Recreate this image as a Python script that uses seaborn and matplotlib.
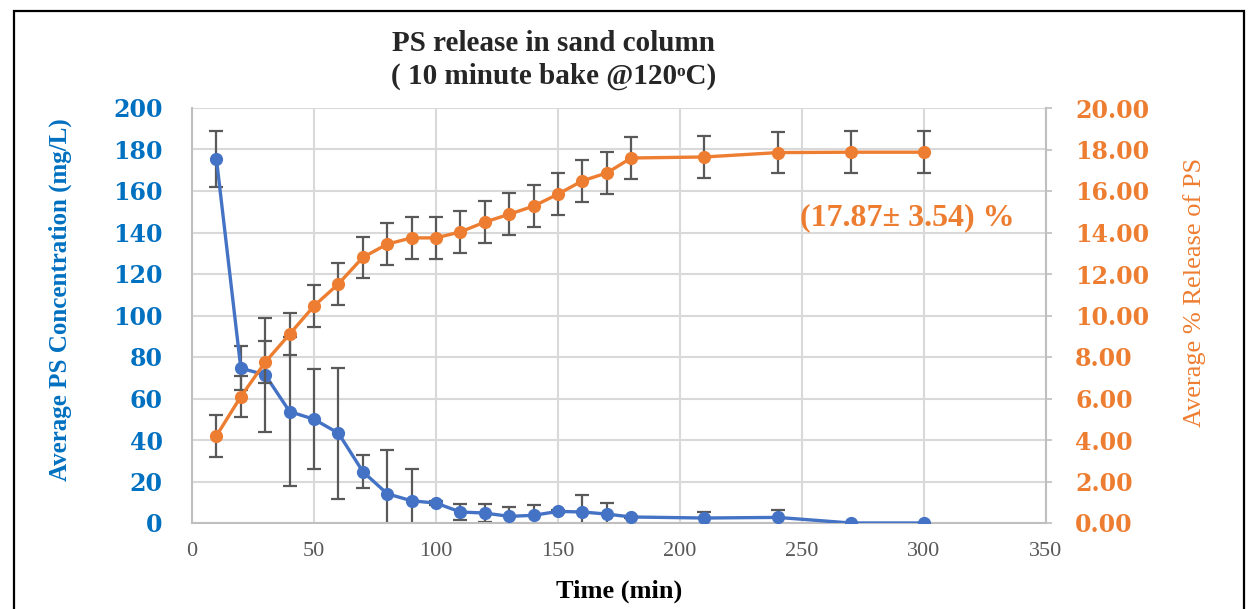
import matplotlib
matplotlib.use('Agg')
import matplotlib.pyplot as plt
import seaborn as sns
import pandas as pd
from matplotlib.patches import Rectangle

# ── Data ────────────────────────────────────────────────────────────────────
time_min = [10, 20, 30, 40, 50, 60, 70, 80, 90, 100, 110,
            120, 130, 140, 150, 160, 170, 180, 210, 240, 270, 300]
ps_conc = [175.6, 74.6, 71.4, 53.7, 50.0, 43.3, 24.8, 14.1, 10.7, 9.6, 5.3,
           4.8, 3.2, 3.7, 5.6, 5.3, 4.3, 2.9, 2.4, 2.7, 0.0, 0.0]
ps_conc_err = [13.5, 10.5, 27.6, 36.0, 24.0, 31.5, 7.8, 21.0, 15.3, 0.8, 4.0,
               4.5, 4.5, 5.0, 0.8, 8.3, 5.3, 0.5, 2.9, 3.8, 0.0, 0.0]
ps_release = [4.20, 6.09, 7.75, 9.10, 10.46, 11.52, 12.80, 13.44, 13.74, 13.74, 14.03,
              14.50, 14.88, 15.27, 15.85, 16.49, 16.87, 17.59, 17.64, 17.85, 17.87, 17.87]
ps_release_err = [1.0] * len(time_min)

x_ticks = [0, 50, 100, 150, 200, 250, 300, 350]
left_ticks = list(range(0, 201, 20))
right_ticks = list(range(0, 21, 2))

df = pd.DataFrame({'time': time_min, 'conc': ps_conc, 'release': ps_release})

BLUE = '#4472C4'
ORANGE = '#ED7D31'
BLUE_TXT = '#0070C0'
ERR = '#595959'
GRID = '#D9D9D9'
WIDE_SERIF = ['DejaVu Serif']

sns.set_theme(style='white')
plt.rcParams['font.family'] = ['Liberation Serif', 'DejaVu Serif']

fig = plt.figure(figsize=(12.48, 6.09), dpi=100)
ax = fig.add_axes([192 / 1248, 1 - 523 / 609, (1046 - 192) / 1248, (523 - 108) / 609])
ax2 = ax.twinx()

# ── Concentration (left axis) ──────────────────────────────────────────────
ax.errorbar(df['time'], df['conc'], yerr=ps_conc_err, fmt='none', ecolor=ERR,
            elinewidth=1.6, capsize=5, capthick=1.6, zorder=2)
sns.lineplot(data=df, x='time', y='conc', ax=ax, color=BLUE, linewidth=2.4,
             marker='o', markersize=9.5, markeredgewidth=0, zorder=3)

# ── % release (right axis) ─────────────────────────────────────────────────
ax2.errorbar(df['time'], df['release'], yerr=ps_release_err, fmt='none', ecolor=ERR,
             elinewidth=1.6, capsize=5, capthick=1.6, zorder=2)
sns.lineplot(data=df, x='time', y='release', ax=ax2, color=ORANGE, linewidth=2.4,
             marker='o', markersize=9.5, markeredgewidth=0, zorder=3)

# ── Axes styling ───────────────────────────────────────────────────────────
ax.set_xlim(0, 350)
ax.set_ylim(0, 200)
ax2.set_ylim(0, 20)
ax.set_xticks(x_ticks)
ax.set_yticks(left_ticks)
ax2.set_yticks(right_ticks)
ax2.set_yticklabels([f'{v:.2f}' for v in right_ticks])

ax.grid(True, color=GRID, linewidth=1.5)
ax.set_axisbelow(True)
ax2.grid(False)
for sp in ax.spines.values():
    sp.set_color('#BFBFBF')
    sp.set_linewidth(1.5)
for sp in ax2.spines.values():
    sp.set_visible(False)
ax.spines['top'].set_visible(False)

ax.tick_params(axis='x', length=0, pad=14, labelsize=16, labelcolor=ERR)
ax.tick_params(axis='y', length=0, pad=21, labelcolor=BLUE_TXT)
ax2.tick_params(axis='y', length=4, width=1.2, color='#BFBFBF', pad=17,
                labelcolor=ORANGE)
for lab in ax.get_yticklabels() + ax2.get_yticklabels():
    lab.set_fontweight('bold')
    lab.set_fontsize(17)
    lab.set_family(WIDE_SERIF)

ax.set_xlabel('Time (min)', fontsize=19, fontweight='bold', color='black')
ax.xaxis.set_label_coords(0.5, -0.137)
ax.set_ylabel('Average PS Concentration (mg/L)', fontsize=18, fontweight='bold',
              color=BLUE_TXT)
ax.yaxis.set_label_coords(-0.1405, 0.538)
ax2.set_ylabel('Average % Release of PS', fontsize=19, color=ORANGE,
               rotation=90)
ax2.yaxis.set_label_coords(1.160, 0.555)

ax2.text(293, 14.7, '(17.87\u00b1 3.54) %', ha='center', va='center',
         fontsize=23, fontweight='bold', color=ORANGE)

fig.text(554 / 1248, 1 - 60 / 609, 'PS release in sand column\n( 10 minute bake @120\u1d52C)',
         ha='center', va='center', fontsize=21, fontweight='bold', linespacing=1.25)

fig.patches.append(Rectangle((14 / 1248, -0.05), (1244 - 14) / 1248, 1.05 - 11 / 609,
                             transform=fig.transFigure, fill=False,
                             edgecolor='black', linewidth=1.6))

fig.savefig('out.png', dpi=100, facecolor='white')
